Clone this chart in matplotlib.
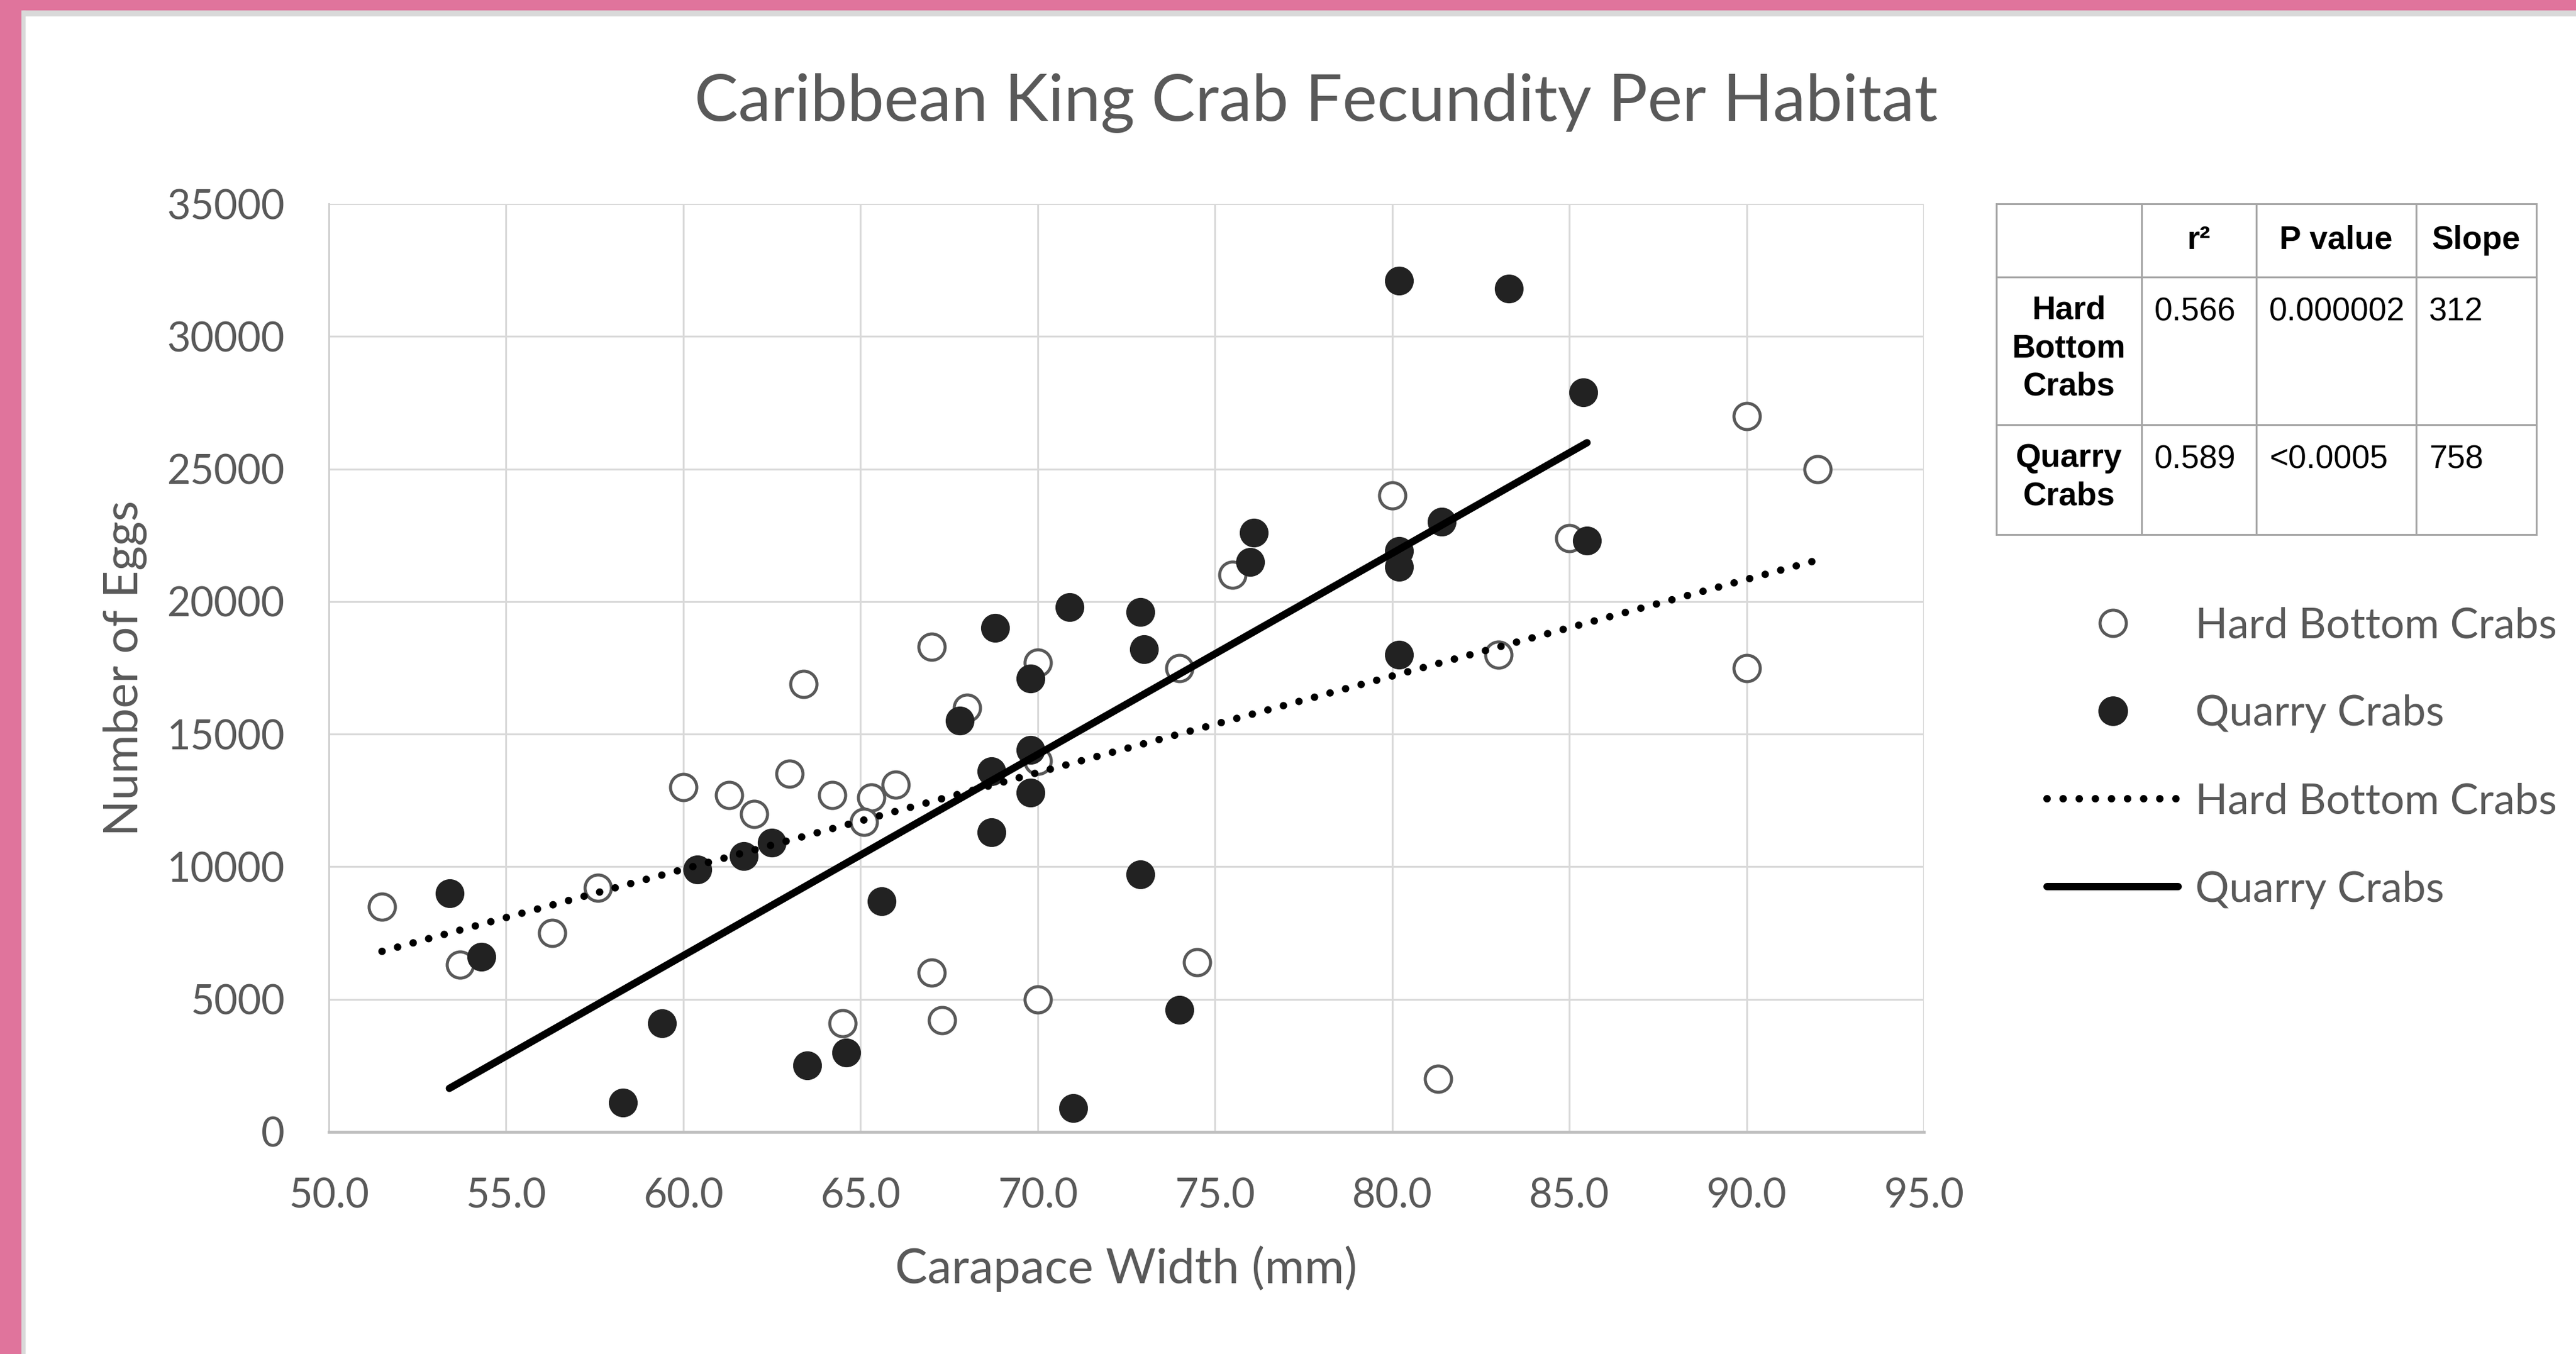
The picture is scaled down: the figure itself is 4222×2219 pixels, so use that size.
import numpy as np
import matplotlib
matplotlib.use("Agg")
import matplotlib.pyplot as plt
from matplotlib.patches import Rectangle
from matplotlib.lines import Line2D

# carapace width (mm) / eggs
hard_x = [51.5, 53.7, 56.3, 57.6, 60.0, 61.3, 62.0, 63.0, 63.4, 64.2, 65.3,
          65.1, 66.0, 67.0, 68.0, 70.0, 70.0, 67.0, 67.3, 64.5, 70.0, 74.5,
          74.0, 75.5, 80.0, 83.0, 85.0, 81.3, 90.0, 90.0, 92.0]
hard_y = [8500, 6300, 7500, 9200, 13000, 12700, 12000, 13500, 16900, 12700, 12600,
          11700, 13100, 18300, 16000, 17700, 14000, 6000, 4200, 4100, 5000, 6400,
          17500, 21000, 24000, 18000, 22400, 2000, 27000, 17500, 25000]

quarry_x = [53.4, 54.3, 58.3, 59.4, 60.4, 61.7, 62.5, 63.5, 64.6, 65.6, 67.8,
            68.8, 69.8, 69.8, 68.7, 69.8, 68.7, 71.0, 70.9, 72.9, 73.0, 72.9,
            74.0, 76.1, 76.0, 80.2, 80.2, 80.2, 81.4, 85.5, 80.2, 83.3, 85.4]
quarry_y = [9000, 6600, 1100, 4100, 9900, 10400, 10900, 2500, 3000, 8700, 15500,
            19000, 17100, 14400, 13600, 12800, 11300, 900, 19800, 19600, 18200, 9700,
            4600, 22600, 21500, 21900, 21300, 18000, 23000, 22300, 32100, 31800, 27900]

x_ticks = [50, 55, 60, 65, 70, 75, 80, 85, 90, 95]
y_ticks = [0, 5000, 10000, 15000, 20000, 25000, 30000, 35000]

# stats table
table_header = ["", "r\u00b2", "P value", "Slope"]
table_groups = ["Hard\nBottom\nCrabs", "Quarry\nCrabs"]
r2_vals = ["0.566", "0.589"]
p_vals = ["0.000002", "<0.0005"]
slope_vals = ["312", "758"]

W, H, DPI = 4222, 2219, 200
GREY_TXT = "#595959"
PINK = "#e0749c"
FONT = "Lato"
DOTS = dict(lw=4.4, dashes=(0.01, 2.15), dash_capstyle="round")


def trend(x, y):
    m, b = np.polyfit(x, y, 1)
    xs = np.array([min(x), max(x)])
    return xs, m * xs + b


fig = plt.figure(figsize=(W / DPI, H / DPI), dpi=DPI)
fig.patch.set_facecolor("white")

# pink page frame
fig.patches.append(Rectangle((0, 1 - 18 / H), 1, 18 / H, transform=fig.transFigure,
                             color=PINK, zorder=0))
fig.patches.append(Rectangle((36 / W, 1 - 25 / H), 1, 7 / H, transform=fig.transFigure,
                             color="#d9d9d9", zorder=0))
fig.patches.append(Rectangle((0, 0), 36 / W, 1, transform=fig.transFigure,
                             color=PINK, zorder=0))
fig.patches.append(Rectangle((36 / W, 0), 4 / W, 1 - 18 / H, transform=fig.transFigure,
                             color="#d9d9d9", zorder=0))

ax = fig.add_axes([539 / W, 1 - 1855 / H, (3153 - 539) / W, (1855 - 334) / H])
ax.set_xlim(50, 95)
ax.set_ylim(0, 35000)
ax.set_xticks(x_ticks)
ax.set_xticklabels([f"{v:.1f}" for v in x_ticks])
ax.set_yticks(y_ticks)
ax.set_yticklabels([str(v) for v in y_ticks])
ax.tick_params(length=0, labelsize=24, labelcolor=GREY_TXT)
ax.tick_params(axis="x", pad=27)
ax.tick_params(axis="y", pad=26)
for lab in ax.get_xticklabels() + ax.get_yticklabels():
    lab.set_family(FONT)
ax.grid(True, color="#d9d9d9", lw=1.1)
ax.set_axisbelow(True)
for s in ["top", "right"]:
    ax.spines[s].set_visible(False)
ax.spines["left"].set_color("#d0d0d0")
ax.spines["left"].set_linewidth(1.1)
ax.spines["bottom"].set_color("#bfbfbf")
ax.spines["bottom"].set_linewidth(1.8)

ax.plot(hard_x, hard_y, "o", ms=15.5, mfc="white", mec=GREY_TXT, mew=1.8,
        ls="none", zorder=3)
ax.plot(quarry_x, quarry_y, "o", ms=16.5, mfc="#222222", mec="#222222", mew=0.5,
        ls="none", zorder=4)

hx, hy = trend(hard_x, hard_y)
ax.plot(hx, hy, color="black", zorder=5, **DOTS)
qx, qy = trend(quarry_x, quarry_y)
ax.plot(qx, qy, color="black", lw=4.3, solid_capstyle="round", zorder=5)

fig.text(0.511, 0.924, "Caribbean King Crab Fecundity Per Habitat", ha="center",
         va="center", fontsize=38.7, color=GREY_TXT, family=FONT)
fig.text(1846 / W, 1 - 2079 / H, "Carapace Width (mm)", ha="center", va="center",
         fontsize=28.6, color=GREY_TXT, family=FONT)
fig.text(205 / W, 1 - 1095 / H, "Number of Eggs", ha="center", va="center",
         rotation=90, fontsize=28, color=GREY_TXT, family=FONT)

handles = [
    Line2D([], [], marker="o", ls="none", ms=15.5, mfc="white", mec=GREY_TXT, mew=1.8),
    Line2D([], [], marker="o", ls="none", ms=16.5, mfc="#222222", mec="#222222"),
    Line2D([], [], color="black", **DOTS),
    Line2D([], [], color="black", lw=4.3, solid_capstyle="round"),
]
labels = ["Hard Bottom Crabs", "Quarry Crabs", "Hard Bottom Crabs", "Quarry Crabs"]
leg = fig.legend(handles, labels, loc="upper left",
                 bbox_to_anchor=(3355 / W, 1 - 994 / H), frameon=False,
                 prop={"family": FONT, "size": 25}, handlelength=3.1,
                 handletextpad=0.4, labelspacing=1.17, borderpad=0, borderaxespad=0)
for t in leg.get_texts():
    t.set_color(GREY_TXT)

# table drawn in pixel space
tab = fig.add_axes([0, 0, 1, 1])
tab.set_xlim(0, W)
tab.set_ylim(H, 0)
tab.axis("off")
tab.patch.set_visible(False)
col_edges = [3272, 3510, 3698, 3960, 4157]
row_edges = [334, 454, 696, 876]
for xe in col_edges:
    tab.plot([xe, xe], [row_edges[0], row_edges[-1]], color="#a6a6a6", lw=1.1)
for ye in row_edges:
    tab.plot([col_edges[0], col_edges[-1]], [ye, ye], color="#a6a6a6", lw=1.1)

tfont = dict(family="Liberation Sans", fontsize=19.2, color="black")
for j, head in enumerate(table_header):
    if head:
        tab.text((col_edges[j] + col_edges[j + 1]) / 2, (row_edges[0] + row_edges[1]) / 2,
                 head, ha="center", va="center", weight="bold", **tfont)
for i, grp in enumerate(table_groups):
    top, bot = row_edges[i + 1], row_edges[i + 2]
    tab.text((col_edges[0] + col_edges[1]) / 2, (top + bot) / 2 - 4, grp,
             ha="center", va="center", weight="bold", linespacing=1.32, **tfont)
    for j, val in enumerate([r2_vals[i], p_vals[i], slope_vals[i]]):
        tab.text(col_edges[j + 1] + 21, top + 32, val, ha="left", va="top", **tfont)

fig.savefig("out.png", dpi=DPI)
